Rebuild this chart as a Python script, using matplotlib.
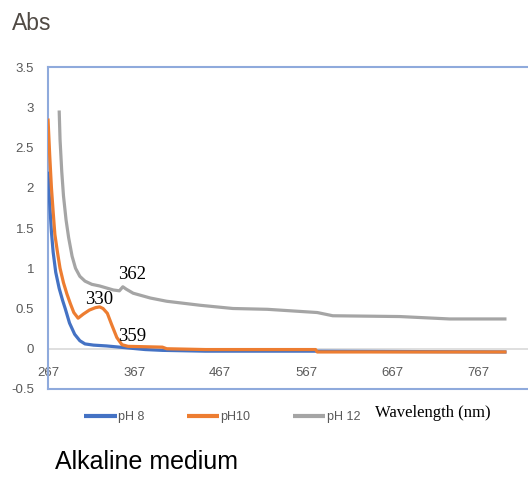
import matplotlib
matplotlib.use('Agg')
import matplotlib.pyplot as plt

# Wavelength (nm) / absorbance
wl_ph8 = [267, 269, 271, 273, 276, 280, 284, 287, 292, 298, 304, 310, 320, 335,
          350, 365, 380, 400, 450, 578, 800]
abs_ph8 = [2.2, 1.8, 1.45, 1.2, 0.95, 0.75, 0.6, 0.5, 0.32, 0.18, 0.1, 0.06, 0.045,
           0.035, 0.02, 0.005, -0.01, -0.02, -0.03, -0.03, -0.04]

wl_ph10 = [267, 269, 271, 273, 275, 278, 281, 285, 289, 293, 297, 302, 308, 315,
           322, 327, 331, 336, 341, 347, 353, 360, 380, 400, 405, 450, 578, 580, 800]
abs_ph10 = [2.86, 2.4, 2.0, 1.7, 1.42, 1.2, 1.0, 0.82, 0.68, 0.56, 0.45, 0.38, 0.43,
            0.48, 0.51, 0.52, 0.5, 0.44, 0.3, 0.14, 0.05, 0.03, 0.025, 0.02, 0.0,
            -0.01, -0.01, -0.04, -0.04]

wl_ph12 = [280, 281, 283, 285, 288, 291, 295, 299, 304, 310, 318, 327, 343, 350,
           354, 358, 366, 386, 405, 444, 482, 522, 580, 598, 676, 734, 800]
abs_ph12 = [2.96, 2.6, 2.2, 1.9, 1.6, 1.38, 1.15, 1.0, 0.9, 0.84, 0.8, 0.78, 0.73,
            0.72, 0.77, 0.74, 0.69, 0.63, 0.59, 0.54, 0.5, 0.49, 0.45, 0.41, 0.4,
            0.37, 0.37]

series_labels = ['pH 8', 'pH10', 'pH 12']
series_colors = ['#4472c4', '#ed7d31', '#a5a5a5']

x_ticks = [267, 367, 467, 567, 667, 767]
y_ticks = [-0.5, 0, 0.5, 1, 1.5, 2, 2.5, 3, 3.5]
y_tick_labels = ['-0.5', '0', '0.5', '1', '1.5', '2', '2.5', '3', '3.5']

peak_labels = ['362', '330', '359']
peak_pos = [(365, 0.92), (327, 0.61), (365, 0.15)]

sans = ['Liberation Sans', 'DejaVu Sans']
tick_color = '#595959'
frame_color = '#8faadc'

fig = plt.figure(figsize=(5.28, 4.78), dpi=100)
ax = fig.add_axes([0.0909, 0.1862, 0.9091, 0.6736])

ax.axhline(0, color='#d9d9d9', lw=1.2, zorder=1)
for wl, ab, lab, col in zip([wl_ph8, wl_ph10, wl_ph12], [abs_ph8, abs_ph10, abs_ph12],
                            series_labels, series_colors):
    ax.plot(wl, ab, color=col, lw=2.3, label=lab, zorder=3, solid_capstyle='butt')

ax.set_xlim(267, 825)
ax.set_ylim(-0.5, 3.5)

for side in ['left', 'top', 'bottom']:
    ax.spines[side].set_color(frame_color)
    ax.spines[side].set_linewidth(1.5)
ax.spines['right'].set_visible(False)

ax.set_yticks(y_ticks)
ax.set_yticklabels(y_tick_labels, fontsize=9.5, color=tick_color, family=sans)
ax.tick_params(axis='y', length=0, pad=10)

ax.set_xticks(x_ticks)
ax.set_xticklabels([str(t) for t in x_ticks], fontsize=9.5, color=tick_color, family=sans)
ax.tick_params(axis='x', length=0, pad=-16)

for txt, (px, py) in zip(peak_labels, peak_pos):
    ax.text(px, py, txt, fontsize=13.5, family='Liberation Serif', ha='center',
            va='center', zorder=4)

fig.text(12 / 528, 1 - 24 / 478, 'Abs', fontsize=16.5, color='#504a44', family=sans,
         va='center', ha='left')

leg = fig.legend(loc='center left', bbox_to_anchor=(84 / 528, 1 - 417 / 478), ncol=3,
                 frameon=False, handlelength=2.6, handletextpad=0.1, columnspacing=3.4,
                 borderpad=0, borderaxespad=0, prop={'family': sans, 'size': 9})
for t in leg.get_texts():
    t.set_color(tick_color)
for h in leg.legend_handles:
    h.set_linewidth(3)

fig.text(375 / 528, 1 - 413 / 478, 'Wavelength (nm)', fontsize=12,
         family='Liberation Serif', va='center', ha='left')
fig.text(55 / 528, 1 - 462 / 478, 'Alkaline medium', fontsize=18,
         family=sans, va='center', ha='left')

fig.savefig('out.png', dpi=100)
